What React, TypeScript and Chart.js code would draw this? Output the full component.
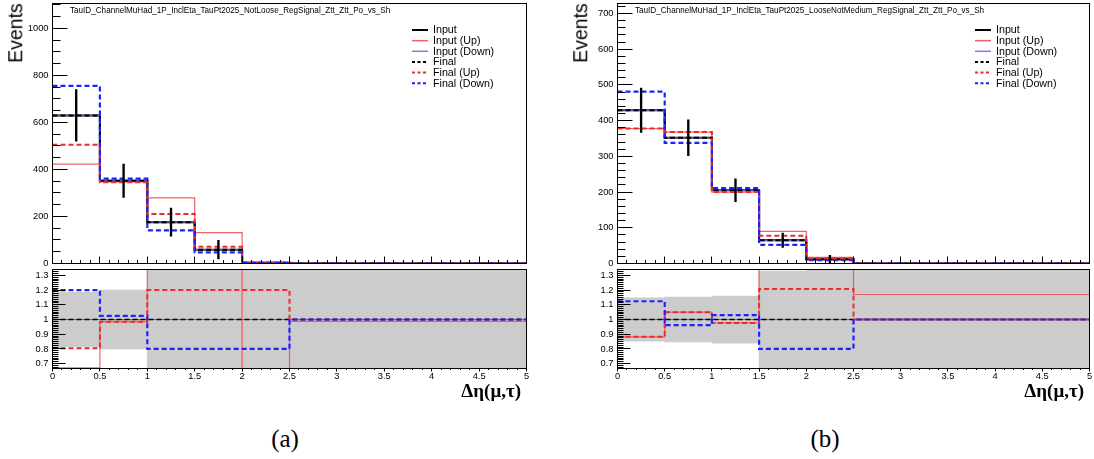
import React, { useEffect, useRef } from 'react';
import { Chart, registerables } from 'chart.js';

Chart.register(...registerables);

const SANS = "'Liberation Sans', Arial, Helvetica, sans-serif";
const SERIF = "'Liberation Serif', 'Times New Roman', serif";

// ---------------- data ----------------
const binEdges = [0, 0.5, 1, 1.5, 2, 2.5, 3, 3.5, 4, 4.5, 5];
const binCenters = [0.25, 0.75, 1.25, 1.75, 2.25, 2.75, 3.25, 3.75, 4.25, 4.75];
const legendLabels = ['Input', 'Input (Up)', 'Input (Down)', 'Final', 'Final (Up)', 'Final (Down)'];
const xAxisTitle = 'Δη(μ,τ)';
const yAxisTitle = 'Events';
const captions = ['(a)', '(b)'];

// panel (a)
const titleA = 'TauID_ChannelMuHad_1P_InclEta_TauPt2025_NotLoose_RegSignal_Ztt_Ztt_Po_vs_Sh';
const inputA = [630, 352, 176, 59, 3, 0, 0, 0, 0, 0];
const inputErrA = [110, 71, 60, 40, 0, 0, 0, 0, 0, 0];
const inputUpA = [423, 347, 279, 131, 0, 0, 0, 0, 0, 0];
const inputDownA = [630, 352, 176, 59, 3, 0, 0, 0, 0, 0];
const finalA = [630, 352, 176, 59, 3, 0, 0, 0, 0, 0];
const finalUpA = [505, 346, 211, 71, 3.6, 0, 0, 0, 0, 0];
const finalDownA = [756, 361, 141, 47, 2.4, 0, 0, 0, 0, 0];
const ratioInputUpA = [0.672, 0.984, 1.6, 2.2, 0.0, 0.987, 0.987, 0.987, 0.987, 0.987];
const ratioInputDownA = [1, 1, 1, 1, 1, 1, 1, 1, 1, 1];
const ratioFinalA = [1, 1, 1, 1, 1, 1, 1, 1, 1, 1];
const ratioFinalUpA = [0.804, 0.984, 1.2, 1.2, 1.2, 1, 1, 1, 1, 1];
const ratioFinalDownA = [1.2, 1.025, 0.8, 0.8, 0.8, 1, 1, 1, 1, 1];
const bandA = [0.185, 0.2, 0.34, 0.68, 1, 1, 1, 1, 1, 1];
const yMaxA = 1106;
const yStepA = 200;
const yMinorA = 50;

// panel (b)
const titleB = 'TauID_ChannelMuHad_1P_InclEta_TauPt2025_LooseNotMedium_RegSignal_Ztt_Ztt_Po_vs_Sh';
const inputB = [429, 352, 205, 65, 12, 0, 0, 0, 0, 0];
const inputErrB = [62, 50, 32, 20, 11, 0, 0, 0, 0, 0];
const inputUpB = [378, 368, 200, 90, 17, 0, 0, 0, 0, 0];
const inputDownB = [429, 352, 205, 65, 12, 0, 0, 0, 0, 0];
const finalB = [429, 352, 205, 65, 12, 0, 0, 0, 0, 0];
const finalUpB = [378, 368, 200, 78, 14.5, 0, 0, 0, 0, 0];
const finalDownB = [481, 338, 211, 52, 9.6, 0, 0, 0, 0, 0];
const ratioInputUpB = [0.882, 1.05, 0.977, 1.38, 1.5, 1.17, 1.17, 1.17, 1.17, 1.17];
const ratioInputDownB = [1, 1, 1, 1, 1, 1, 1, 1, 1, 1];
const ratioFinalB = [1, 1, 1, 1, 1, 1, 1, 1, 1, 1];
const ratioFinalUpB = [0.882, 1.05, 0.977, 1.208, 1.208, 1, 1, 1, 1, 1];
const ratioFinalDownB = [1.124, 0.962, 1.03, 0.8, 0.8, 1, 1, 1, 1, 1];
const bandB = [0.148, 0.152, 0.16, 0.33, 0.9, 1, 1, 1, 1, 1];
const yMaxB = 728;
const yStepB = 100;
const yMinorB = 20;

const ratioMin = 0.667;
const ratioMax = 1.34;
const ratioStep = 0.1;

// ---------------- styles ----------------
const STY = {
  input: { color: '#000000', width: 2, dash: [] as number[] },
  inputUp: { color: 'rgba(238,80,80,0.9)', width: 1.2, dash: [] as number[] },
  inputDown: { color: 'rgba(110,110,245,0.9)', width: 1.2, dash: [] as number[] },
  final: { color: '#000000', width: 2, dash: [5, 3] },
  finalUp: { color: '#ee2a2a', width: 2, dash: [5, 3] },
  finalDown: { color: '#1f1fff', width: 2.2, dash: [5, 3] },
};
const LEG_STY = [
  { ...STY.input },
  { ...STY.inputUp, width: 1.5 },
  { ...STY.inputDown, width: 1.5 },
  { ...STY.final, dash: [3, 2.5] },
  { ...STY.finalUp, dash: [3, 2.5] },
  { ...STY.finalDown, dash: [3, 2.5] },
];

function histPoints(values: number[], lo = -Infinity, hi = Infinity) {
  const v = values.map((y) => Math.min(Math.max(y, lo), hi));
  const pts = v.map((y, i) => ({ x: binEdges[i], y }));
  pts.push({ x: binEdges[binEdges.length - 1], y: v[v.length - 1] });
  return pts;
}

function lineDs(data: any[], s: { color: string; width: number; dash: number[] }, order: number) {
  return {
    type: 'line',
    data,
    borderColor: s.color,
    borderWidth: s.width,
    borderDash: s.dash,
    pointRadius: 0,
    pointHoverRadius: 0,
    fill: false,
    stepped: 'before',
    tension: 0,
    borderCapStyle: 'butt',
    borderJoinStyle: 'miter',
    order,
  };
}

function eachTick(min: number, max: number, minor: number, major: number, cb: (v: number, m: boolean) => void) {
  const k0 = Math.ceil(min / minor - 1e-6);
  const k1 = Math.floor(max / minor + 1e-6);
  for (let k = k0; k <= k1; k++) {
    const v = k * minor;
    const r = v / major;
    cb(v, Math.abs(r - Math.round(r)) < 1e-6);
  }
}

const rootFramePlugin = {
  id: 'rootFrame',
  afterDatasetsDraw(chart: any, _args: any, opts: any) {
    const ctx = chart.ctx as CanvasRenderingContext2D;
    const a = chart.chartArea;
    const xs = chart.scales.x;
    const ys = chart.scales.y;
    ctx.save();
    ctx.setLineDash([]);
    ctx.strokeStyle = '#000';
    ctx.lineWidth = 1;
    ctx.beginPath();
    const yt = opts.yTicks;
    eachTick(ys.min, ys.max, yt.minor, yt.major, (v, m) => {
      const py = Math.floor(ys.getPixelForValue(v)) + 0.5;
      ctx.moveTo(a.left, py);
      ctx.lineTo(a.left + (m ? yt.majorLen : yt.minorLen), py);
    });
    const xt = opts.xTicks;
    eachTick(xs.min, xs.max, xt.minor, xt.major, (v, m) => {
      const px = Math.floor(xs.getPixelForValue(v)) + 0.5;
      const len = m ? xt.majorLen : xt.minorLen;
      ctx.moveTo(px, a.bottom);
      ctx.lineTo(px, xt.outside ? a.bottom + len : a.bottom - len);
    });
    ctx.stroke();
    ctx.strokeRect(a.left, a.top, a.right - a.left, a.bottom - a.top);

    if (opts.title) {
      ctx.font = `10px ${SANS}`;
      const w = ctx.measureText(titleA).width;
      const size = (10 * opts.title.fitWidth) / w;
      ctx.font = `${size}px ${SANS}`;
      ctx.fillStyle = '#000';
      ctx.textBaseline = 'middle';
      ctx.textAlign = 'left';
      ctx.fillText(opts.title.text, a.left + opts.title.dx, opts.title.y);
    }
    if (opts.legend) {
      const items = opts.legend as { label: string; color: string; width: number; dash: number[] }[];
      ctx.font = `10.7px ${SANS}`;
      ctx.textBaseline = 'middle';
      ctx.textAlign = 'left';
      items.forEach((it, i) => {
        const y = a.top + 26.5 + i * 10.65;
        ctx.beginPath();
        ctx.strokeStyle = it.color;
        ctx.lineWidth = it.width;
        ctx.setLineDash(it.dash);
        ctx.moveTo(a.right - 114.5, y);
        ctx.lineTo(a.right - 98.5, y);
        ctx.stroke();
        ctx.setLineDash([]);
        ctx.fillStyle = '#000';
        ctx.fillText(it.label, a.right - 93.5, y + 0.5);
      });
    }
    ctx.restore();
  },
};

type Panel = {
  title: string;
  input: number[];
  inputErr: number[];
  inputUp: number[];
  inputDown: number[];
  final: number[];
  finalUp: number[];
  finalDown: number[];
  rInputUp: number[];
  rInputDown: number[];
  rFinal: number[];
  rFinalUp: number[];
  rFinalDown: number[];
  band: number[];
  yMax: number;
  yStep: number;
  yMinor: number;
};

type Geom = {
  left: number;
  width: number;
  yAxisW: number;
  padRight: number;
  titleFit: number;
  captionX: number;
};

const TOP_H = 270;
const TOP_PAD = 3.5;
const TOP_XH = 6.5;
const R_TOP = 264;
const R_H = 126;
const R_PAD = 5.5;
const R_XH = 21.5;

const tickFont = { size: 9.3, family: SANS };

function fixX(h: number) {
  return (s: any) => {
    s.height = h;
    s.paddingLeft = 0;
    s.paddingRight = 0;
    s.paddingTop = 0;
    s.paddingBottom = 0;
  };
}
function fixY(w: number) {
  return (s: any) => {
    s.width = w;
    s.paddingTop = 0;
    s.paddingBottom = 0;
    s.paddingLeft = 0;
    s.paddingRight = 0;
  };
}

function topConfig(p: Panel, g: Geom): any {
  const errData = binCenters
    .map((c, i) => ({ x: c, y: [p.input[i] - p.inputErr[i], p.input[i] + p.inputErr[i]], e: p.inputErr[i] }))
    .filter((d) => d.e > 0);
  return {
    type: 'line',
    data: {
      datasets: [
        {
          type: 'bar',
          data: errData,
          backgroundColor: '#000',
          barThickness: 1.7,
          grouped: false,
          borderWidth: 0,
          order: 0,
        },
        lineDs(histPoints(p.finalDown), STY.finalDown, 1),
        lineDs(histPoints(p.finalUp), STY.finalUp, 2),
        lineDs(histPoints(p.final), STY.final, 3),
        lineDs(histPoints(p.inputDown), STY.inputDown, 4),
        lineDs(histPoints(p.inputUp), STY.inputUp, 5),
        lineDs(histPoints(p.input), STY.input, 6),
      ],
    },
    options: {
      responsive: false,
      animation: false,
      devicePixelRatio: 1,
      events: [],
      layout: { padding: { top: TOP_PAD, right: g.padRight, left: 0, bottom: 0 } },
      scales: {
        x: {
          type: 'linear',
          min: 0,
          max: 5,
          offset: false,
          grid: { display: false, drawTicks: false },
          border: { display: false },
          ticks: { display: false },
          afterFit: fixX(TOP_XH),
        },
        y: {
          type: 'linear',
          min: 0,
          max: p.yMax,
          grid: { display: false, drawTicks: false },
          border: { display: false },
          ticks: {
            stepSize: p.yStep,
            includeBounds: false,
            autoSkip: false,
            color: '#000',
            font: tickFont,
            padding: 4,
            callback: (v: number) => String(Math.round(v)),
          },
          afterFit: fixY(g.yAxisW),
        },
      },
      plugins: {
        legend: { display: false },
        tooltip: { enabled: false },
        rootFrame: {
          yTicks: { major: p.yStep, minor: p.yMinor, majorLen: 15, minorLen: 8 },
          xTicks: { major: 0.5, minor: 0.1, majorLen: 7, minorLen: 3.5, outside: false },
          title: { text: p.title, dx: 17.5, y: 11, fitWidth: 321 },
          legend: legendLabels.map((label, i) => ({ label, ...LEG_STY[i] })),
        },
      },
    },
    plugins: [rootFramePlugin],
  };
}

function ratioConfig(p: Panel, g: Geom): any {
  const bandData = binCenters.map((c, i) => ({ x: c, y: [1 - p.band[i], 1 + p.band[i]] }));
  const rl = (v: number[]) => histPoints(v, ratioMin, ratioMax);
  return {
    type: 'line',
    data: {
      datasets: [
        lineDs(rl(p.rFinalDown), STY.finalDown, 1),
        lineDs(rl(p.rFinalUp), STY.finalUp, 2),
        lineDs(rl(p.rFinal), { ...STY.final, width: 1.5 }, 3),
        lineDs(rl(p.rInputDown), STY.inputDown, 4),
        lineDs(rl(p.rInputUp), STY.inputUp, 5),
        lineDs(histPoints(p.input.map(() => 1)), { ...STY.input, width: 1.2 }, 6),
        {
          type: 'bar',
          data: bandData,
          backgroundColor: '#cccccc',
          barPercentage: 1,
          categoryPercentage: 1,
          grouped: false,
          borderWidth: 0,
          order: 50,
        },
      ],
    },
    options: {
      responsive: false,
      animation: false,
      devicePixelRatio: 1,
      events: [],
      layout: { padding: { top: R_PAD, right: g.padRight, left: 0, bottom: 0 } },
      scales: {
        x: {
          type: 'linear',
          min: 0,
          max: 5,
          offset: false,
          grid: { display: false, drawTicks: false },
          border: { display: false },
          ticks: {
            stepSize: 0.5,
            includeBounds: false,
            autoSkip: false,
            maxRotation: 0,
            minRotation: 0,
            color: '#000',
            font: tickFont,
            padding: 2,
            callback: (v: number) => String(Math.round(v * 10) / 10),
          },
          afterFit: fixX(R_XH),
        },
        y: {
          type: 'linear',
          min: ratioMin,
          max: ratioMax,
          grid: { display: false, drawTicks: false },
          border: { display: false },
          ticks: {
            stepSize: ratioStep,
            includeBounds: false,
            autoSkip: false,
            color: '#000',
            font: tickFont,
            padding: 4,
            callback: (v: number) => String(Math.round(v * 10) / 10),
          },
          afterFit: fixY(g.yAxisW),
        },
      },
      plugins: {
        legend: { display: false },
        tooltip: { enabled: false },
        rootFrame: {
          yTicks: { major: 0.1, minor: 0.0125, majorLen: 13, minorLen: 6 },
          xTicks: { major: 0.5, minor: 0.1, majorLen: 3, minorLen: 1.5, outside: true },
        },
      },
    },
    plugins: [rootFramePlugin],
  };
}

function ChartCanvas({ left, top, width, height, make }: { left: number; top: number; width: number; height: number; make: () => any }) {
  const ref = useRef<HTMLCanvasElement | null>(null);
  useEffect(() => {
    if (!ref.current) return;
    const c = new Chart(ref.current, make());
    return () => c.destroy();
  }, []);
  return (
    <canvas
      ref={ref}
      width={width}
      height={height}
      style={{ position: 'absolute', left, top, width, height, display: 'block' }}
    />
  );
}

const panelA: Panel = {
  title: titleA,
  input: inputA,
  inputErr: inputErrA,
  inputUp: inputUpA,
  inputDown: inputDownA,
  final: finalA,
  finalUp: finalUpA,
  finalDown: finalDownA,
  rInputUp: ratioInputUpA,
  rInputDown: ratioInputDownA,
  rFinal: ratioFinalA,
  rFinalUp: ratioFinalUpA,
  rFinalDown: ratioFinalDownA,
  band: bandA,
  yMax: yMaxA,
  yStep: yStepA,
  yMinor: yMinorA,
};

const panelB: Panel = {
  title: titleB,
  input: inputB,
  inputErr: inputErrB,
  inputUp: inputUpB,
  inputDown: inputDownB,
  final: finalB,
  finalUp: finalUpB,
  finalDown: finalDownB,
  rInputUp: ratioInputUpB,
  rInputDown: ratioInputDownB,
  rFinal: ratioFinalB,
  rFinalUp: ratioFinalUpB,
  rFinalDown: ratioFinalDownB,
  band: bandB,
  yMax: yMaxB,
  yStep: yStepB,
  yMinor: yMinorB,
};

const geomA: Geom = { left: 0, width: 545, yAxisW: 52.5, padRight: 18.5, titleFit: 321, captionX: 285 };
const geomB: Geom = { left: 560, width: 534, yAxisW: 57.5, padRight: 4.5, titleFit: 352, captionX: 825 };

function PanelView({ p, g, caption }: { p: Panel; g: Geom; caption: string }) {
  const frameLeft = g.left + g.yAxisW;
  const frameRight = g.left + g.width - g.padRight;
  return (
    <>
      <ChartCanvas left={g.left} top={0} width={g.width} height={TOP_H} make={() => topConfig(p, g)} />
      <ChartCanvas left={g.left} top={R_TOP} width={g.width} height={R_H} make={() => ratioConfig(p, g)} />
      <div
        style={{
          position: 'absolute',
          left: frameLeft - 37,
          top: 33,
          transform: 'translate(-50%, -50%) rotate(-90deg)',
          font: `19.5px ${SANS}`,
          lineHeight: 1,
          whiteSpace: 'nowrap',
          color: '#000',
        }}
      >
        {yAxisTitle}
      </div>
      <div
        style={{
          position: 'absolute',
          right: 1094 - (frameRight - 5.5),
          top: 381,
          font: `bold 19px ${SERIF}`,
          lineHeight: '20px',
          whiteSpace: 'nowrap',
          color: '#000',
        }}
      >
        {xAxisTitle}
      </div>
      <div
        style={{
          position: 'absolute',
          left: g.captionX,
          top: 438,
          transform: 'translate(-50%, -50%)',
          font: `25px ${SERIF}`,
          lineHeight: 1,
          whiteSpace: 'nowrap',
          color: '#000',
        }}
      >
        {caption}
      </div>
    </>
  );
}

export default function App() {
  return (
    <div
      style={{
        position: 'fixed',
        left: 0,
        top: 0,
        width: 1094,
        height: 459,
        overflow: 'hidden',
        background: '#ffffff',
      }}
    >
      <PanelView p={panelA} g={geomA} caption={captions[0]} />
      <PanelView p={panelB} g={geomB} caption={captions[1]} />
    </div>
  );
}
